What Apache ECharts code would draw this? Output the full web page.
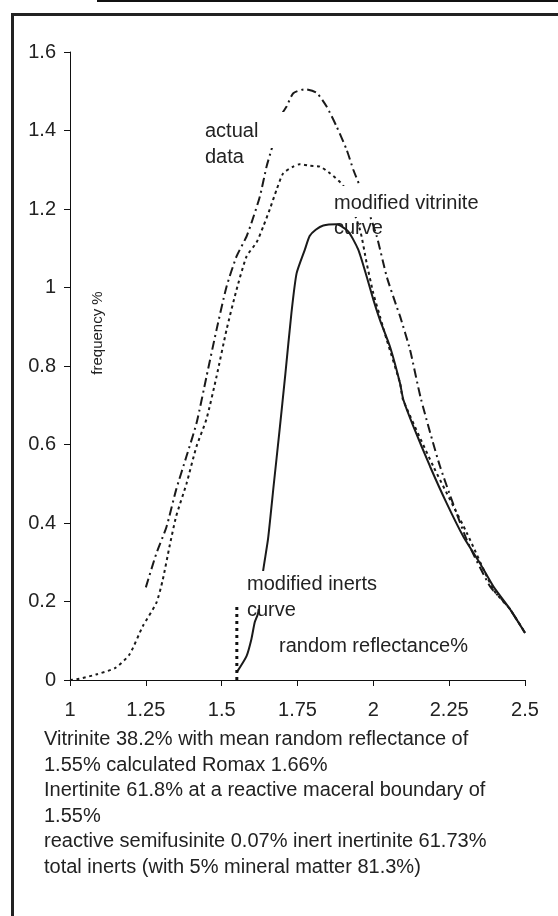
<!DOCTYPE html>
<html>
<head>
<meta charset="utf-8">
<title>reflectance chart</title>
<script src="https://cdn.jsdelivr.net/npm/echarts@6/dist/echarts.min.js"></script>
<style>
  html, body { margin: 0; padding: 0; background: #fff; }
  #chart { width: 558px; height: 916px; }
</style>
</head>
<body>
<div id="chart"></div>
<script>
// values, [random reflectance %, frequency %]
var actualData = [
  [1.25, 0.236], [1.285, 0.323], [1.318, 0.39], [1.35, 0.485], [1.384, 0.57],
  [1.417, 0.654], [1.45, 0.773], [1.483, 0.892], [1.516, 1.002], [1.549, 1.079],
  [1.582, 1.13], [1.598, 1.164], [1.626, 1.232], [1.648, 1.308], [1.664, 1.351],
  [1.697, 1.44], [1.714, 1.461], [1.736, 1.495], [1.774, 1.505], [1.813, 1.496],
  [1.846, 1.461], [1.879, 1.41], [1.912, 1.351], [1.934, 1.3], [1.956, 1.257],
  [2.011, 1.131], [2.044, 1.028], [2.077, 0.951], [2.088, 0.927], [2.121, 0.841],
  [2.157, 0.716], [2.22, 0.544], [2.308, 0.357], [2.385, 0.238], [2.424, 0.205],
  [2.451, 0.18], [2.5, 0.12]
];
var dottedData = [
  [1.0, 0.0], [1.03, 0.003], [1.086, 0.014], [1.15, 0.031], [1.196, 0.065],
  [1.24, 0.137], [1.285, 0.197], [1.306, 0.256], [1.328, 0.34], [1.35, 0.417],
  [1.384, 0.5], [1.417, 0.595], [1.45, 0.665], [1.483, 0.773], [1.516, 0.892],
  [1.549, 0.994], [1.582, 1.079], [1.615, 1.115], [1.637, 1.155], [1.659, 1.2],
  [1.681, 1.249], [1.703, 1.291], [1.736, 1.308], [1.757, 1.314], [1.791, 1.31],
  [1.824, 1.308], [1.857, 1.291], [1.901, 1.259], [1.956, 1.147], [1.978, 1.062],
  [2.0, 0.985], [2.022, 0.926], [2.044, 0.867], [2.088, 0.756], [2.098, 0.714],
  [2.198, 0.544], [2.308, 0.375], [2.396, 0.23], [2.451, 0.18], [2.5, 0.12]
];
var vitriniteData = [
  [1.55, 0.02], [1.582, 0.061], [1.598, 0.104], [1.609, 0.147], [1.62, 0.17],
  [1.637, 0.28], [1.653, 0.36], [1.672, 0.5], [1.69, 0.63], [1.71, 0.78],
  [1.73, 0.935], [1.747, 1.036], [1.774, 1.096], [1.79, 1.131], [1.81, 1.147],
  [1.835, 1.158], [1.879, 1.161], [1.917, 1.143], [1.95, 1.097], [1.978, 1.028],
  [2.0, 0.969], [2.022, 0.917], [2.055, 0.849], [2.088, 0.756], [2.099, 0.714],
  [2.132, 0.646], [2.187, 0.544], [2.242, 0.45], [2.297, 0.365], [2.352, 0.297],
  [2.396, 0.238], [2.451, 0.18], [2.5, 0.12]
];
var boundaryData = [[1.55, 0], [1.55, 0.19]];

var notes = [
  "Vitrinite 38.2% with mean random reflectance of",
  "1.55% calculated Romax 1.66%",
  "Inertinite 61.8% at a reactive maceral boundary of",
  "1.55%",
  "reactive semifusinite 0.07% inert inertinite 61.73%",
  "total inerts (with 5% mineral matter 81.3%)"
];

var FONT = "Liberation Sans, Arial, sans-serif";
var INK = "#222";

var chart = echarts.init(document.getElementById("chart"), null, { renderer: "canvas" });

function label(text, left, top, z) {
  return {
    type: "text",
    left: left,
    top: top,
    z: z,
    style: {
      text: text,
      fill: INK,
      font: "20px " + FONT,
      lineHeight: 25.5
    }
  };
}

function whiteBox(x, y, w, h) {
  return {
    type: "rect",
    left: x,
    top: y,
    z: 50,
    shape: { width: w, height: h },
    style: { fill: "#fff" }
  };
}

var option = {
  animation: false,
  backgroundColor: "#fff",
  grid: {
    left: 70,
    right: 33,
    top: 52,
    bottom: 236
  },
  xAxis: {
    type: "value",
    min: 1,
    max: 2.5,
    interval: 0.25,
    splitLine: { show: false },
    axisLine: { lineStyle: { color: "#111", width: 1 } },
    axisTick: { inside: false, length: 6, lineStyle: { color: "#111" } },
    axisLabel: {
      color: INK,
      fontSize: 20,
      fontFamily: FONT,
      margin: 20,
      showMinLabel: true,
      showMaxLabel: true
    }
  },
  yAxis: {
    type: "value",
    min: 0,
    max: 1.6,
    interval: 0.2,
    splitLine: { show: false },
    axisLine: { show: true, lineStyle: { color: "#111", width: 1 } },
    axisTick: { show: true, length: 6, lineStyle: { color: "#111" } },
    axisLabel: {
      color: INK,
      fontSize: 20,
      fontFamily: FONT,
      margin: 14
    }
  },
  series: [
    {
      name: "actual data",
      type: "line",
      data: actualData,
      smooth: 0.2,
      showSymbol: false,
      lineStyle: { color: "#1a1a1a", width: 2, type: [9, 4, 2, 4] }
    },
    {
      name: "dotted",
      type: "line",
      data: dottedData,
      smooth: 0.2,
      showSymbol: false,
      lineStyle: { color: "#1a1a1a", width: 2, type: [3, 3.5] }
    },
    {
      name: "modified vitrinite curve",
      type: "line",
      data: vitriniteData,
      smooth: 0.2,
      showSymbol: false,
      lineStyle: { color: "#1a1a1a", width: 2, type: "solid" }
    },
    {
      name: "boundary",
      type: "line",
      data: boundaryData,
      showSymbol: false,
      lineStyle: { color: "#111", width: 3, type: [3, 4] }
    }
  ],
  graphic: [
    // outer frame
    {
      type: "rect",
      left: 10,
      top: 12,
      z: 60,
      shape: { width: 600, height: 1000 },
      style: { fill: null, stroke: "#222", lineWidth: 3 }
    },
    {
      type: "rect",
      left: 97,
      top: 0,
      z: 60,
      shape: { width: 470, height: 2 },
      style: { fill: "#111" }
    },
    // text boxes hiding parts of the curves
    whiteBox(200, 112, 84, 36),
    whiteBox(330, 186, 160, 31),
    whiteBox(242, 571, 190, 38),
    label("actual\ndata", 205, 119, 70),
    label("modified vitrinite", 334, 191, 70),
    label("curve", 334, 216, 1),
    label("modified inerts\ncurve", 247, 572, 70),
    label("random reflectance%", 279, 634, 70),
    {
      type: "text",
      x: 98,
      y: 333,
      rotation: Math.PI / 2,
      z: 70,
      style: {
        text: "frequency %",
        fill: INK,
        font: "15px " + FONT,
        align: "center",
        verticalAlign: "middle"
      }
    },
    label(notes.join("\n"), 44, 727, 70)
  ]
};

chart.setOption(option);
</script>
</body>
</html>
